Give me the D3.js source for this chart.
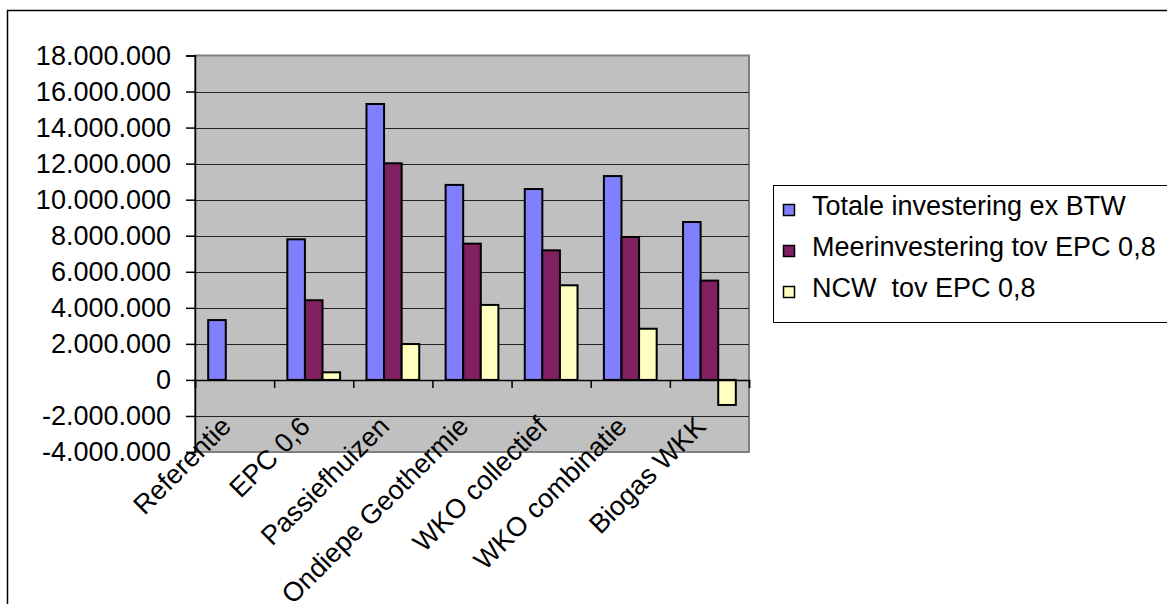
<!DOCTYPE html>
<html>
<head>
<meta charset="utf-8">
<script src="https://cdn.jsdelivr.net/npm/d3@7"></script>
<style>
  html, body { margin: 0; padding: 0; background: #fff; }
  svg text { font-family: "Liberation Sans", Arial, sans-serif; fill: #000; }
</style>
</head>
<body>
<svg id="chart" width="1167" height="604"></svg>
<script>
// Investment scenarios (euro, ex BTW)
const categories = ["Referentie", "EPC 0,6", "Passiefhuizen", "Ondiepe Geothermie", "WKO collectief", "WKO combinatie", "Biogas WKK"];
const seriesNames = ["Totale investering ex BTW", "Meerinvestering tov EPC 0,8", "NCW  tov EPC 0,8"];
const totaleInvestering = [3320000, 7800000, 15310000, 10820000, 10590000, 11310000, 8760000];
const meerinvestering = [0, 4420000, 12020000, 7560000, 7190000, 7930000, 5510000];
const ncwTovEpc = [0, 420000, 1990000, 4160000, 5250000, 2840000, -1390000];
const yTickValues = [-4000000, -2000000, 0, 2000000, 4000000, 6000000, 8000000, 10000000, 12000000, 14000000, 16000000, 18000000];

const seriesValues = [totaleInvestering, meerinvestering, ncwTovEpc];
const seriesColors = ["#8080FF", "#802060", "#FFFFC0"];

const svg = d3.select("#chart");
const plot = { left: 195, right: 749, top: 55.5, bottom: 452 };
const fontSize = 27;

const nl = d3.formatLocale({ decimal: ",", thousands: ".", grouping: [3], currency: ["€", ""], minus: "-" });
const fmt = nl.format(",d");

const y = d3.scaleLinear().domain([-4000000, 18000000]).range([plot.bottom, plot.top]);
const x0 = d3.scaleBand().domain(categories).range([plot.left, plot.right]).padding(0);
const bw = x0.bandwidth();
const barW = bw / 4.5;             // gap width 150%
const x1 = d3.scaleBand().domain(d3.range(seriesNames.length))
  .range([barW * 0.75, bw - barW * 0.75]).padding(0);
const boundary = d3.scaleLinear().domain([0, categories.length]).range([plot.left, plot.right]);

// outer chart frame
svg.append("rect")
  .attr("x", 7.5).attr("y", 10.5).attr("width", 1300).attr("height", 700)
  .attr("fill", "none").attr("stroke", "#000").attr("stroke-width", 1.5);

// plot area
svg.append("rect")
  .attr("x", plot.left).attr("y", plot.top)
  .attr("width", plot.right - plot.left).attr("height", plot.bottom - plot.top)
  .attr("fill", "#C0C0C0").attr("stroke", "#808080").attr("stroke-width", 2);

// horizontal gridlines
svg.append("g").selectAll("line")
  .data(yTickValues.filter(v => v > -4000000 && v < 18000000 && v !== 0))
  .join("line")
  .attr("x1", plot.left).attr("x2", plot.right)
  .attr("y1", d => Math.round(y(d)) + 0.5).attr("y2", d => Math.round(y(d)) + 0.5)
  .attr("stroke", "#222").attr("stroke-width", 1);

// bars
const groups = svg.append("g").selectAll("g")
  .data(categories)
  .join("g")
  .attr("transform", d => `translate(${x0(d)},0)`);

groups.selectAll("rect")
  .data((c, i) => seriesValues.map((vals, s) => ({ s, v: vals[i] })).filter(d => d.v !== 0))
  .join("rect")
  .attr("x", d => x1(d.s))
  .attr("width", x1.bandwidth())
  .attr("y", d => y(Math.max(0, d.v)))
  .attr("height", d => Math.abs(y(d.v) - y(0)))
  .attr("fill", d => seriesColors[d.s])
  .attr("stroke", "#000").attr("stroke-width", 2);

// category axis along zero
const xAxis = svg.append("g")
  .attr("transform", `translate(0,${y(0)})`)
  .call(d3.axisBottom(boundary).tickValues(d3.range(categories.length + 1)).tickFormat("").tickSize(8));
xAxis.select(".domain").attr("stroke", "#000").attr("stroke-width", 1.5);
xAxis.selectAll(".tick line").attr("stroke", "#000").attr("stroke-width", 1.5);

// value axis
const yAxis = svg.append("g")
  .attr("transform", `translate(${plot.left},0)`)
  .call(d3.axisLeft(y).tickValues(yTickValues).tickFormat(fmt).tickSize(9).tickPadding(15));
yAxis.select(".domain").attr("stroke", "#000").attr("stroke-width", 1.5);
yAxis.selectAll(".tick line").attr("stroke", "#000").attr("stroke-width", 1.5);
yAxis.selectAll(".tick text")
  .style("font-size", fontSize + "px")
  .attr("font-family", "Liberation Sans, Arial, sans-serif");

// rotated category labels
svg.append("g").selectAll("text")
  .data(categories)
  .join("text")
  .attr("transform", d => `translate(${x0(d) + bw / 2 - 2},428) rotate(-45)`)
  .attr("text-anchor", "end")
  .style("font-size", fontSize + "px")
  .text(d => d);

// legend
const legend = svg.append("g");
legend.append("rect")
  .attr("x", 773.5).attr("y", 185.5).attr("width", 500).attr("height", 137)
  .attr("fill", "#fff").attr("stroke", "#000").attr("stroke-width", 1);
const rows = legend.selectAll("g.row")
  .data(seriesNames)
  .join("g")
  .attr("class", "row")
  .attr("transform", (d, i) => `translate(0,${215 + i * 41})`);
rows.append("rect")
  .attr("x", 783.5).attr("y", -10.5).attr("width", 11).attr("height", 11)
  .attr("fill", (d, i) => seriesColors[i]).attr("stroke", "#000").attr("stroke-width", 1.5);
rows.append("text")
  .attr("x", 812).attr("y", 0)
  .style("font-size", fontSize + "px")
  .style("white-space", "pre")
  .text(d => d);
</script>
</body>
</html>
